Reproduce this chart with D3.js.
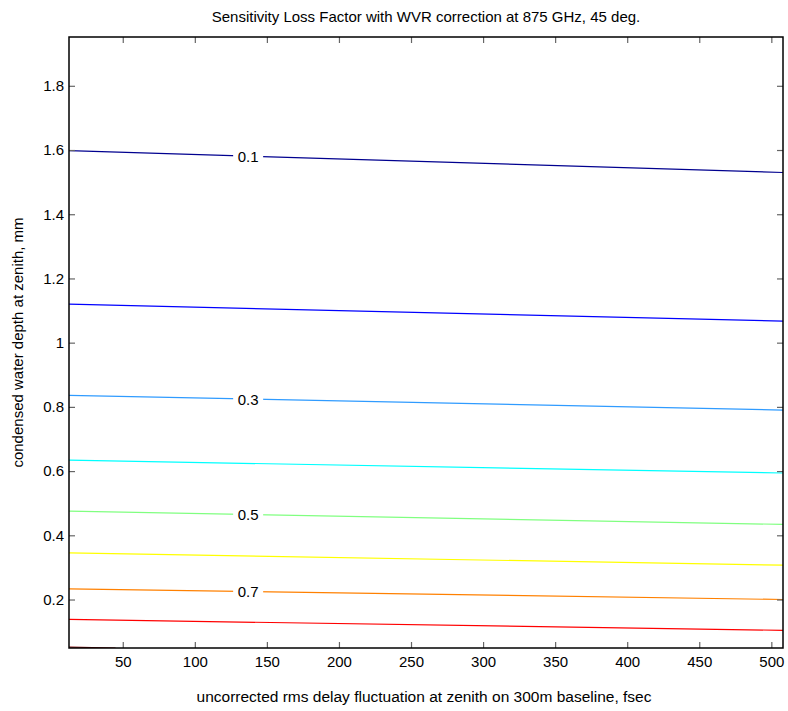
<!DOCTYPE html>
<html>
<head>
<meta charset="utf-8">
<script src="https://cdn.jsdelivr.net/npm/d3@7"></script>
<style>
body { margin: 0; background: #fff; }
text { font-family: "Liberation Sans", Arial, sans-serif; fill: #000; }
</style>
</head>
<body>
<svg id="chart" width="788" height="711"></svg>
<script>
// contour levels and their colours (jet)
var levels = [0.1, 0.2, 0.3, 0.4, 0.5, 0.6, 0.7, 0.8, 0.9];
var levelColors = ["#00008f", "#0000ff", "#2f9bff", "#00ffff", "#80ff80", "#ffff00", "#ff8000", "#ff0000", "#800000"];
// each contour: x (delay, fsec) and y (water depth, mm)
var contourX = [
  [12.7, 508.1], [12.7, 508.1], [12.7, 508.1], [12.7, 508.1], [12.7, 508.1],
  [12.7, 508.1], [12.7, 508.1], [12.7, 508.1], [12.7, 45]
];
var contourY = [
  [1.598, 1.530], [1.120, 1.067], [0.836, 0.790], [0.634, 0.594], [0.475, 0.434],
  [0.345, 0.307], [0.233, 0.200], [0.138, 0.104], [0.052, 0.049]
];
var labeledLevels = [0.1, 0.3, 0.5, 0.7];
var labelX = 137;
var xTicks = [50, 100, 150, 200, 250, 300, 350, 400, 450, 500];
var yTicks = [0.2, 0.4, 0.6, 0.8, 1, 1.2, 1.4, 1.6, 1.8];

var mLeft = 69, mRight = 783, mTop = 37, mBottom = 648;
var svg = d3.select("#chart");

var x = d3.scaleLinear().domain([12.7, 508.1]).range([mLeft, mRight]);
var y = d3.scaleLinear().domain([0.049, 1.952]).range([mBottom, mTop]);

svg.append("defs").append("clipPath").attr("id", "clip")
  .append("rect").attr("x", mLeft).attr("y", mTop).attr("width", mRight - mLeft).attr("height", mBottom - mTop);

var plot = svg.append("g").attr("clip-path", "url(#clip)");
var line = d3.line().x(function(d){ return x(d[0]); }).y(function(d){ return y(d[1]); });

levels.forEach(function(lv, i){
  var pts = d3.zip(contourX[i], contourY[i]);
  plot.append("path")
    .attr("d", line(pts))
    .attr("fill", "none")
    .attr("stroke", levelColors[i])
    .attr("stroke-width", 1.2);
  if (labeledLevels.indexOf(lv) >= 0) {
    // y of the line at the label position
    var t = (labelX - contourX[i][0]) / (contourX[i][1] - contourX[i][0]);
    var yv = contourY[i][0] + t * (contourY[i][1] - contourY[i][0]);
    plot.append("rect")
      .attr("x", x(labelX) - 15).attr("y", y(yv) - 8)
      .attr("width", 30).attr("height", 16)
      .attr("fill", "#fff");
    plot.append("text")
      .attr("x", x(labelX)).attr("y", y(yv) + 5.5)
      .attr("text-anchor", "middle")
      .attr("font-size", 15)
      .text(d3.format("~g")(lv));
  }
});

// axes: ticks inside, mirrored on top and right
function styleAxis(g) {
  g.select(".domain").remove();
  g.selectAll(".tick line").attr("stroke", "#666").attr("stroke-width", 1.2);
  g.selectAll(".tick text").attr("font-size", 15).attr("font-family", "Liberation Sans, Arial, sans-serif");
}
svg.append("g").attr("transform", "translate(0," + mBottom + ")")
  .call(d3.axisBottom(x).tickValues(xTicks).tickSizeInner(-6).tickPadding(8).tickFormat(d3.format("d")))
  .call(styleAxis);
svg.append("g").attr("transform", "translate(0," + mTop + ")")
  .call(d3.axisTop(x).tickValues(xTicks).tickSizeInner(-6).tickFormat(""))
  .call(styleAxis);
svg.append("g").attr("transform", "translate(" + mLeft + ",0)")
  .call(d3.axisLeft(y).tickValues(yTicks).tickSizeInner(-6).tickPadding(5).tickFormat(d3.format("~g")))
  .call(styleAxis);
svg.append("g").attr("transform", "translate(" + mRight + ",0)")
  .call(d3.axisRight(y).tickValues(yTicks).tickSizeInner(-6).tickFormat(""))
  .call(styleAxis);

svg.append("rect")
  .attr("x", mLeft).attr("y", mTop).attr("width", mRight - mLeft).attr("height", mBottom - mTop)
  .attr("fill", "none").attr("stroke", "#000").attr("stroke-width", 1.5);

svg.append("text")
  .attr("x", (mLeft + mRight) / 2).attr("y", 22)
  .attr("text-anchor", "middle").attr("font-size", 15)
  .text("Sensitivity Loss Factor with WVR correction at 875 GHz, 45 deg.");
svg.append("text")
  .attr("x", (mLeft + mRight) / 2 - 2).attr("y", 702)
  .attr("text-anchor", "middle").attr("font-size", 15.5)
  .text("uncorrected rms delay fluctuation at zenith on 300m baseline, fsec");
svg.append("text")
  .attr("transform", "translate(23," + ((mTop + mBottom) / 2) + ") rotate(-90)")
  .attr("text-anchor", "middle").attr("font-size", 15)
  .text("condensed water depth at zenith, mm");
</script>
</body>
</html>
